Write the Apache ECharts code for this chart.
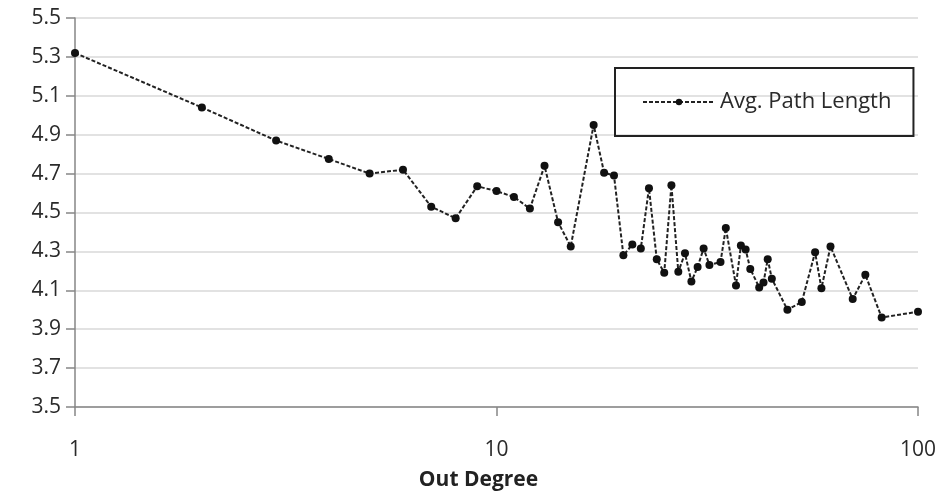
<!DOCTYPE html>
<html>
<head>
<meta charset="utf-8">
<script src="https://cdn.jsdelivr.net/npm/echarts@6/dist/echarts.min.js"></script>
<style>
  html, body { margin: 0; padding: 0; background: #fff; }
  #chart { width: 940px; height: 495px; }
</style>
</head>
<body>
<div id="chart"></div>
<script>
// Out degree (log scale) and average path length
const outDegree = [1, 2, 3, 4, 5, 6, 7, 8, 9, 10, 11, 12, 13, 14, 15, 17, 18, 19,
  20, 21, 22, 23, 24, 25, 26, 27, 28, 29, 30, 31, 32, 34, 35, 37, 38, 39, 40,
  42, 43, 44, 45, 49, 53, 57, 59, 62, 70, 75, 82, 100];
const avgPathLength = [5.32, 5.04, 4.87, 4.775, 4.70, 4.72, 4.53, 4.47, 4.635, 4.61, 4.58, 4.52, 4.74, 4.45, 4.325, 4.95, 4.705, 4.69,
  4.28, 4.335, 4.315, 4.625, 4.26, 4.19, 4.64, 4.195, 4.29, 4.145, 4.22, 4.315, 4.23, 4.245, 4.42, 4.125, 4.33, 4.31, 4.21,
  4.115, 4.14, 4.26, 4.16, 4.00, 4.04, 4.295, 4.11, 4.325, 4.055, 4.18, 3.96, 3.99];
const seriesName = 'Avg. Path Length';
const xAxisTitle = 'Out Degree';

const FONT = '"Open Sans", sans-serif';
const chart = echarts.init(document.getElementById('chart'), null, { renderer: 'canvas' });

chart.setOption({
  animation: false,
  backgroundColor: '#ffffff',
  grid: { left: 75, right: 22, top: 18, bottom: 88, containLabel: false, outerBoundsMode: 'none' },
  legend: {
    data: [seriesName],
    left: 615,
    top: 68,
    orient: 'horizontal',
    padding: [23, 22, 23, 27],
    borderColor: '#222',
    borderWidth: 2,
    itemWidth: 72,
    itemHeight: 8,
    itemGap: 0,
    textStyle: { fontFamily: FONT, fontSize: 22, color: '#2a2a2a' }
  },
  xAxis: {
    type: 'log',
    logBase: 10,
    min: 1,
    max: 100,
    name: xAxisTitle,
    nameLocation: 'middle',
    nameGap: 63,
    nameTextStyle: { fontFamily: FONT, fontSize: 21, fontWeight: 'bold', color: '#222', padding: [0, 36, 0, 0] },
    axisLine: { lineStyle: { color: '#868686', width: 1.5 } },
    axisTick: { show: true, length: 9, lineStyle: { color: '#868686', width: 1.5 } },
    minorTick: { show: false },
    splitLine: { show: false },
    axisLabel: { fontFamily: FONT, fontSize: 21, color: '#2a2a2a', margin: 33 }
  },
  yAxis: {
    type: 'value',
    min: 3.5,
    max: 5.5,
    interval: 0.2,
    axisLine: { show: true, lineStyle: { color: '#868686', width: 1.5 } },
    axisTick: { show: true, length: 9, lineStyle: { color: '#868686', width: 1.5 } },
    splitLine: { lineStyle: { color: '#d9d9d9', width: 1.5 } },
    axisLabel: {
      fontFamily: FONT, fontSize: 21, color: '#2a2a2a', margin: 14,
      formatter: v => v.toFixed(1)
    }
  },
  series: [{
    name: seriesName,
    type: 'line',
    data: outDegree.map((d, i) => [d, avgPathLength[i]]),
    symbol: 'circle',
    symbolSize: 8,
    showAllSymbol: true,
    lineStyle: { color: '#222', width: 2, type: [4, 2] },
    itemStyle: { color: '#111' },
    z: 3
  }]
});
</script>
</body>
</html>
